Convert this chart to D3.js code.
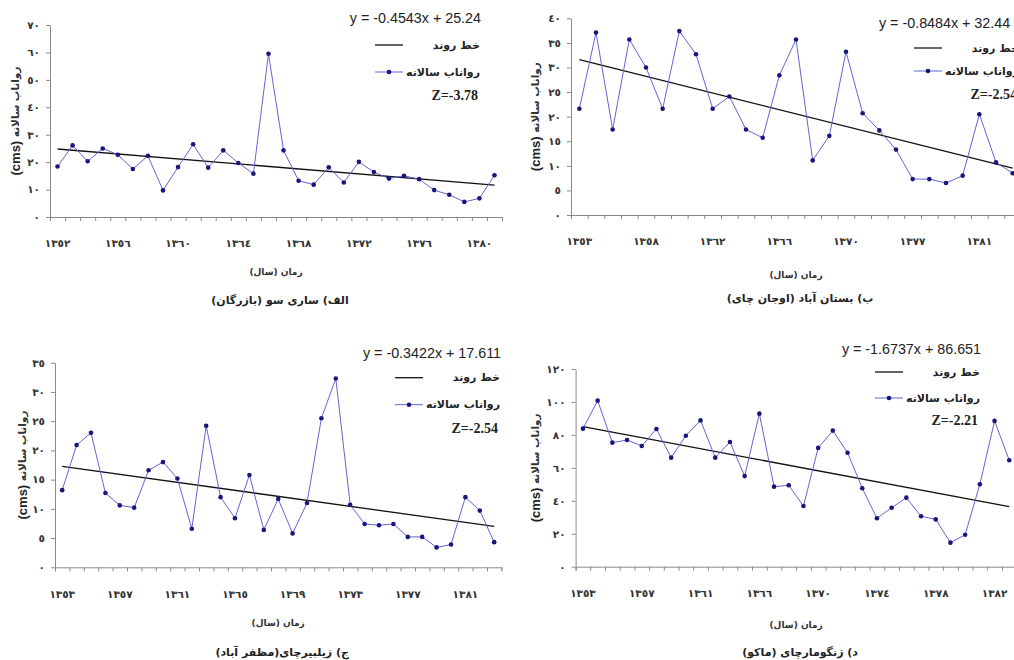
<!DOCTYPE html>
<html>
<head>
<meta charset="utf-8">
<script src="https://cdn.jsdelivr.net/npm/d3@7"></script>
<style>
  body { margin: 0; background: #fff; }
  svg { display: block; }
  .axis path, .axis line { stroke: #8a8a8a; }
  .axis text { font-family: "DejaVu Sans", sans-serif; font-weight: bold; font-size: 10.5px; fill: #333; }
  .eq { font-family: "Liberation Sans", Arial, sans-serif; font-size: 14.3px; fill: #222; }
  .leg { font-family: "DejaVu Sans", sans-serif; font-weight: bold; font-size: 11px; fill: #222; }
  .z { font-family: "Liberation Serif", serif; font-weight: bold; font-size: 14px; fill: #222; }
  .xlab { font-family: "DejaVu Sans", sans-serif; font-weight: bold; font-size: 9px; fill: #333; }
  .cap { font-family: "DejaVu Sans", sans-serif; font-weight: bold; font-size: 11px; fill: #222; }
</style>
</head>
<body>
<svg id="chart" width="1014" height="660"></svg>
<script>
const faDigits = "٠١٢٣٤٥٦٧٨٩";
const fa = v => String(v).replace(/\d/g, d => faDigits[d]);

// الف) ساری سو (بازرگان)
const yearsA = [1352,1353,1354,1355,1356,1357,1358,1359,1360,1361,1362,1363,1364,1365,1366,
                1367,1368,1369,1370,1371,1372,1373,1374,1375,1376,1377,1378,1379,1380,1381];
const flowA = [18.4,26.1,20.3,25.0,22.7,17.5,22.3,9.7,18.2,26.5,18.0,24.3,19.7,15.8,59.5,
               24.3,13.2,11.8,18.1,12.6,20.1,16.4,14.0,15.0,13.8,9.8,8.1,5.5,6.8,15.2];

// ب) بستان آباد (اوجان چای)
const yearsB = [1353,1354,1355,1356,1358,1359,1360,1361,1362,1363,1364,1365,1366,1367,
                1368,1369,1370,1371,1374,1375,1377,1378,1379,1380,1381,1382,1383];
const flowB = [21.6,37.1,17.4,35.7,30.0,21.6,37.4,32.7,21.6,24.1,17.4,15.7,28.4,35.7,
               11.1,16.1,33.2,20.7,17.2,13.3,7.3,7.3,6.5,8.0,20.5,10.7,8.5];

// ج) زیلبیرچای (مظفر آباد)
const yearsC = [1353,1354,1355,1356,1357,1358,1359,1360,1361,1362,1363,1364,1365,1366,1367,1368,
                1369,1370,1371,1372,1373,1374,1375,1376,1377,1378,1379,1380,1381,1382,1383];
const flowC = [13.2,20.9,23.0,12.7,10.6,10.2,16.6,18.0,15.2,6.6,24.2,12.0,8.4,15.8,6.4,11.7,
               5.8,11.0,25.5,32.3,10.7,7.4,7.2,7.4,5.2,5.2,3.4,3.9,12.0,9.7,4.3];

// د) زنگومارچای (ماکو)
const yearsD = [1353,1354,1355,1356,1357,1358,1359,1360,1361,1362,1363,1364,1366,1367,1368,
                1369,1370,1371,1372,1373,1374,1375,1376,1377,1378,1379,1380,1381,1382,1383];
const flowD = [83.8,100.8,75.3,76.9,73.3,83.6,66.2,79.5,88.8,66.2,75.7,55.0,92.9,48.6,49.4,
               36.8,72.1,82.6,69.2,47.6,29.4,35.8,41.9,30.6,28.7,14.6,19.4,50.0,88.5,64.6];

const trends = [
  { slope: -0.4543, intercept: 25.24,  eq: "y = -0.4543x + 25.24",  z: "Z=-3.78" },
  { slope: -0.8484, intercept: 32.44,  eq: "y = -0.8484x + 32.44",  z: "Z=-2.54" },
  { slope: -0.3422, intercept: 17.611, eq: "y = -0.3422x + 17.611", z: "Z=-2.54" },
  { slope: -1.6737, intercept: 86.651, eq: "y = -1.6737x + 86.651", z: "Z=-2.21" }
];

const captions = ["الف) ساری سو (بازرگان)", "ب) بستان آباد (اوجان چای)",
                  "ج) زیلبیرچای(مظفر آباد)", "د) زنگومارچای (ماکو)"];

const panels = [
  { years: yearsA, flow: flowA, left: 50,    right: 502,    top: 25,    bottom: 217,   yMax: 70,  yStep: 10,
    legR: 480,  legTop: 18,    rows: [0, 27, 54, 77], ylabDx: -35, xlabDy: 55, capDy: 83 },
  { years: yearsB, flow: flowB, left: 571,   right: 1021,   top: 18.3,  bottom: 215,   yMax: 40,  yStep: 5,
    legR: 1019, legTop: 23,    rows: [0, 25, 48, 71], ylabDx: -36, xlabDy: 60, capDy: 83, eqStart: 879 },
  { years: yearsC, flow: flowC, left: 55,    right: 501.4,  top: 362.7, bottom: 567.3, yMax: 35,  yStep: 5,
    legR: 500,  legTop: 352.7, rows: [0, 25, 52, 76], ylabDx: -33, xlabDy: 56, capDy: 85 },
  { years: yearsD, flow: flowD, left: 575.6, right: 1016.6, top: 369,   bottom: 566.7, yMax: 120, yStep: 20,
    legR: 980,  legTop: 349,   rows: [0, 23, 49, 71], ylabDx: -41, xlabDy: 58, capDy: 86 }
];

const svg = d3.select("#chart");
const lineColor = "#6464d6";
const dotColor = "#17177a";

panels.forEach((p, k) => {
  const n = p.years.length;
  const t = trends[k];
  const x = d3.scaleBand().domain(d3.range(n)).range([p.left, p.right]);
  const xEdge = d3.scaleLinear().domain([0, n]).range([p.left, p.right]);
  const y = d3.scaleLinear().domain([0, p.yMax]).range([p.bottom, p.top]);
  const cx = i => x(i) + x.bandwidth() / 2;
  const g = svg.append("g");

  // x axis: ticks on category edges, labels every 4th category
  g.append("g").attr("class", "axis")
    .attr("transform", `translate(0,${p.bottom})`)
    .call(d3.axisBottom(xEdge).tickValues(d3.range(n + 1)).tickSize(4).tickFormat(""));
  g.append("g").attr("class", "axis")
    .attr("transform", `translate(0,${p.bottom})`)
    .call(d3.axisBottom(x).tickValues(d3.range(0, n, 4)).tickSize(0).tickPadding(23)
      .tickFormat(i => fa(p.years[i])))
    .call(a => a.select(".domain").remove());

  // y axis
  g.append("g").attr("class", "axis")
    .attr("transform", `translate(${p.left},0)`)
    .call(d3.axisLeft(y).tickValues(d3.range(0, p.yMax + 1, p.yStep))
      .tickSize(4).tickSizeOuter(0).tickPadding(6).tickFormat(fa));

  // trend line
  const trend = d3.line().x(i => cx(i)).y(i => y(t.slope * (i + 1) + t.intercept));
  g.append("path").datum([0, n - 1]).attr("d", trend)
    .attr("fill", "none").attr("stroke", "#111").attr("stroke-width", 1.3);

  // annual flow series
  const line = d3.line().x((d, i) => cx(i)).y(d => y(d));
  g.append("path").datum(p.flow).attr("d", line)
    .attr("fill", "none").attr("stroke", lineColor).attr("stroke-width", 1);
  g.selectAll(".dot").data(p.flow).enter().append("circle")
    .attr("cx", (d, i) => cx(i)).attr("cy", d => y(d)).attr("r", 2.3)
    .attr("fill", dotColor);

  // legend block
  const R = p.legR, T = p.legTop;
  g.append("text").attr("class", "eq")
    .attr("x", p.eqStart || R + 1).attr("y", T + p.rows[0])
    .attr("text-anchor", p.eqStart ? "start" : "end").attr("dominant-baseline", "central").text(t.eq);
  g.append("line").attr("x1", R - 105).attr("x2", R - 77)
    .attr("y1", T + p.rows[1]).attr("y2", T + p.rows[1])
    .attr("stroke", "#111").attr("stroke-width", 1.3);
  g.append("text").attr("class", "leg").attr("x", R).attr("y", T + p.rows[1])
    .attr("text-anchor", "end").attr("dominant-baseline", "central").text("خط روند");
  g.append("line").attr("x1", R - 105).attr("x2", R - 77)
    .attr("y1", T + p.rows[2]).attr("y2", T + p.rows[2])
    .attr("stroke", lineColor).attr("stroke-width", 1);
  g.append("circle").attr("cx", R - 91).attr("cy", T + p.rows[2]).attr("r", 2.3).attr("fill", dotColor);
  g.append("text").attr("class", "leg").attr("x", R).attr("y", T + p.rows[2])
    .attr("text-anchor", "end").attr("dominant-baseline", "central").text("رواناب سالانه");
  g.append("text").attr("class", "z").attr("x", R - 2).attr("y", T + p.rows[3])
    .attr("text-anchor", "end").attr("dominant-baseline", "central").text(t.z);

  // axis titles and caption
  const midX = (p.left + p.right) / 2;
  const midY = (p.top + p.bottom) / 2;
  const yl = g.append("text")
    .attr("transform", `translate(${p.left + p.ylabDx},${midY}) rotate(-90)`)
    .attr("text-anchor", "middle").attr("dominant-baseline", "central");
  yl.append("tspan").attr("font-family", "Liberation Sans, Arial, sans-serif")
    .attr("font-weight", "bold").attr("font-size", 13).attr("fill", "#222").text("(cms) ");
  yl.append("tspan").attr("font-family", "DejaVu Sans, sans-serif")
    .attr("font-weight", "bold").attr("font-size", 10.5).attr("fill", "#333").text("رواناب سالانه");

  g.append("text").attr("class", "xlab").attr("x", midX).attr("y", p.bottom + p.xlabDy)
    .attr("text-anchor", "middle").attr("dominant-baseline", "central")
    .attr("direction", "rtl").text("زمان (سال)");
  g.append("text").attr("class", "cap").attr("x", midX + 4).attr("y", p.bottom + p.capDy)
    .attr("text-anchor", "middle").attr("dominant-baseline", "central")
    .attr("direction", "rtl").text(captions[k]);
});
</script>
</body>
</html>
